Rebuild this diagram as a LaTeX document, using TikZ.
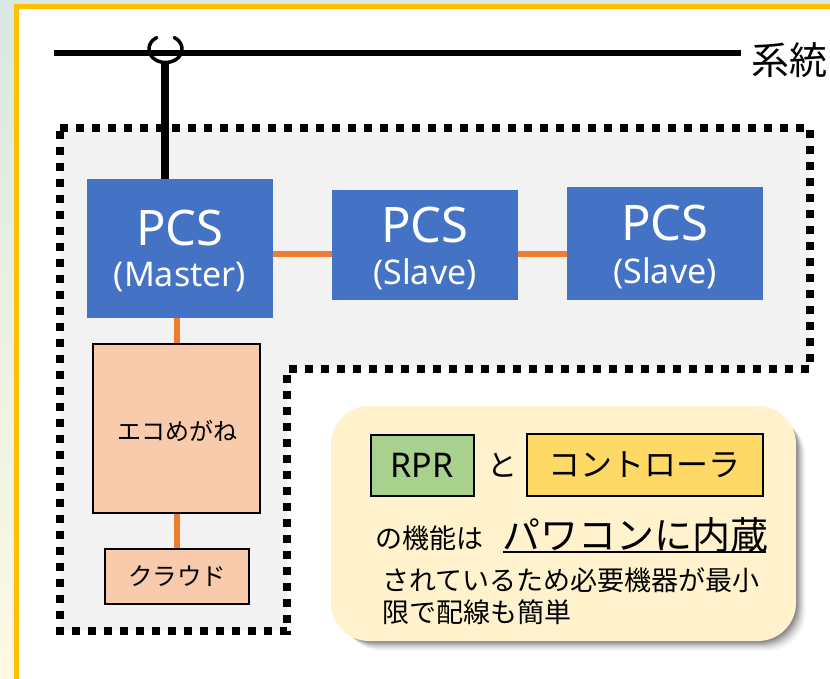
\documentclass[tikz,border=0pt]{standalone}
\usepackage{fontspec}
\setmainfont{Noto Sans CJK JP}
\newfontfamily\latinf{Noto Sans}
\definecolor{pcsblue}{HTML}{4472C4}
\definecolor{wire}{HTML}{ED7D31}
\definecolor{peach}{HTML}{F8CBAD}
\definecolor{frameyellow}{HTML}{FFC000}
\definecolor{zonegrey}{HTML}{F2F2F2}
\definecolor{calloutfill}{HTML}{FFF2CC}
\definecolor{rprgreen}{HTML}{A9D18E}
\definecolor{ctrlyellow}{HTML}{FFD966}
\newcommand{\fs}[1]{\fontsize{#1}{#1}\selectfont}
\tikzset{
  x=1pt,y=-1pt,
  pcsbox/.style={fill=pcsblue,text=white,inner sep=0pt,align=center},
  peachbox/.style={fill=peach,draw=black,line width=2.2pt,inner sep=0pt},
  smallbox/.style={draw=black,line width=2pt,inner sep=0pt},
  busline/.style={line width=6pt,black},
  orangeline/.style={line width=6pt,wire},
  dotline/.style={line width=8pt,black,dash pattern=on 8pt off 8pt},
  calloutshape/.style={rounded corners=38pt}
}
\begin{document}
\begin{tikzpicture}
\useasboundingbox (0,0) rectangle (830,678);
% backdrop and frame
\shade[top color={rgb,255:red,216;green,232;blue,226},middle color={rgb,255:red,245;green,246;blue,222},bottom color={rgb,255:red,255;green,249;blue,228}] (-2,-2) rectangle (832,680);
\fill[white] (16,6) rectangle (834,684);
\draw[frameyellow,line width=5pt] (16.5,684) -- (16.5,6.5) -- (834,6.5);
% grey zone with dotted outline
\fill[zonegrey] (60,128) -- (810,128) -- (810,368) -- (287,368) -- (287,630) -- (60,630) -- cycle;
\draw[dotline] (60,127.5) -- (810,127.5) -- (810,368.5) -- (287,368.5) -- (287,631) -- (60,631) -- cycle;
% nodes
\node[pcsbox,minimum width=186pt,minimum height=139pt] (master) at (180,248.5) {};
\node[pcsbox,minimum width=186pt,minimum height=110pt] (slaveA) at (425,245) {};
\node[pcsbox,minimum width=196pt,minimum height=113pt] (slaveB) at (665,243.5) {};
\node[text=white,font=\latinf\fs{49}] (masterT) at (180,228) {PCS};
\node[text=white,font=\latinf\fs{34}] (masterS) at (180,277) {(Master)};
\node[text=white,font=\latinf\fs{49}] (slaveAT) at (425,225) {PCS};
\node[text=white,font=\latinf\fs{34}] (slaveAS) at (425,274) {(Slave)};
\node[text=white,font=\latinf\fs{49}] (slaveBT) at (665,223) {PCS};
\node[text=white,font=\latinf\fs{34}] (slaveBS) at (665,273) {(Slave)};
\node[peachbox,minimum width=167pt,minimum height=169pt] (eco) at (176.5,428.5) {};
\node[font=\fs{24},inner sep=0pt] (ecoT) at (177,431) {エコめがね};
\node[peachbox,minimum width=144pt,minimum height=55pt,font=\fs{24.5}] (cloud) at (177,576.5) {クラウド};
% connectors
\draw[orangeline] (master.south -| eco) -- (eco.north);
\draw[orangeline] (eco.south) -- (cloud.north -| eco);
\draw[orangeline] (master.east |- 0,254) -- (slaveA.west |- 0,254);
\draw[orangeline] (slaveA.east |- 0,254) -- (slaveB.west |- 0,254);
% bus
\coordinate (busL) at (54,53);
\coordinate (busR) at (741,53);
\coordinate (tap) at (164.5,64);
\draw[busline] (busL) -- (busR);
\draw[black,line width=8pt] (tap) -- (master.north -| tap);
\draw[black,line width=3.5pt,line cap=round] plot[smooth,domain=-58:238,samples=60] ({165.5+16.5*cos(\x)},{49+13.5*sin(\x)});
\node[font=\fs{38},anchor=west,inner sep=0pt] (grid) at (751,60) {系統};
% callout
\foreach \o/\op in {13/.02,12/.03,11/.03,10/.04,9/.05,8/.06,7/.07,6/.08,5/.09,4/.1,3/.1}{
  \fill[black,opacity=\op,calloutshape] (331+\o,406+\o) rectangle (796+\o-3,641+\o-3);
}
\fill[calloutfill,calloutshape] (331,406) rectangle (796,641);
\node[smallbox,fill=rprgreen,minimum width=103pt,minimum height=61pt,font=\latinf\fs{34}] (rpr) at (422,465) {RPR};
\node[font=\fs{30},inner sep=0pt] (to) at (502,465) {と};
\node[smallbox,fill=ctrlyellow,minimum width=236pt,minimum height=62pt,font=\fs{32}] (ctrl) at (644.5,464.5) {コントローラ};
\node[font=\fs{27},anchor=west,inner sep=0pt] (kino) at (375,538) {の機能は};
\node[font=\fs{38},anchor=west,inner sep=0pt] (naizo) at (502,535) {パワコンに内蔵};
\draw[black,line width=1.5pt] (503,552) -- (766,552);
\node[font=\fs{27},anchor=west,inner sep=0pt] (lineA) at (382,580) {されているため必要機器が最小};
\node[font=\fs{27},anchor=west,inner sep=0pt] (lineB) at (382,612) {限で配線も簡単};
\end{tikzpicture}
\end{document}
